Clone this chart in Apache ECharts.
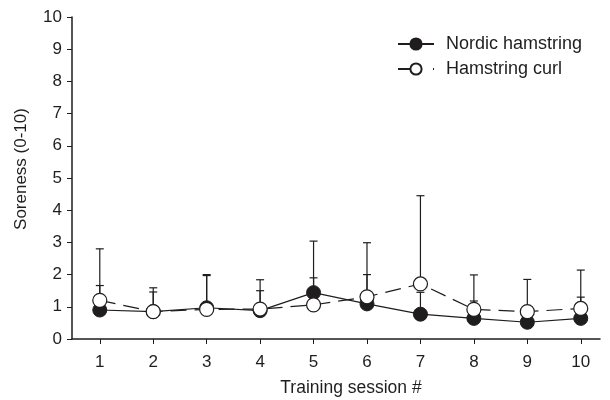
<!DOCTYPE html>
<html><head><meta charset="utf-8">
<script src="https://cdn.jsdelivr.net/npm/echarts@6/dist/echarts.min.js"></script>
<style>html,body{margin:0;padding:0;background:#fff}#c{width:610px;height:400px}</style>
</head><body><div id="c"></div>
<script>
const sessions = [1,2,3,4,5,6,7,8,9,10];
const nordicMean = [0.90,0.85,0.97,0.88,1.44,1.09,0.77,0.64,0.52,0.64];
const nordicUpper = [2.80,1.46,2.00,1.50,3.04,2.00,1.45,1.18,1.00,1.30];
const curlMean = [1.20,0.85,0.92,0.93,1.06,1.31,1.71,0.92,0.85,0.95];
const curlUpper = [1.66,1.59,1.97,1.84,1.90,2.99,4.45,1.99,1.85,2.14];

const INK = '#1f1d1e';
const font = 'Liberation Sans, Arial, sans-serif';

function errSeries(name, mean, upper){
  return {
    type:'custom', name: name + ' err', silent:true, z:1,
    data: sessions.map((s,i)=>[s, upper[i], mean[i]]),
    renderItem:(params, api)=>{
      const p0 = api.coord([api.value(0), api.value(2)]);
      const p1 = api.coord([api.value(0), api.value(1)]);
      const st = {stroke:INK, lineWidth:1.2};
      return {type:'group', children:[
        {type:'line', shape:{x1:p0[0],y1:p0[1],x2:p1[0],y2:p1[1]}, style:st},
        {type:'line', shape:{x1:p1[0]-4,y1:p1[1],x2:p1[0]+4,y2:p1[1]}, style:st}
      ]};
    }
  };
}

const chart = echarts.init(document.getElementById('c'));
chart.setOption({
  animation:false,
  backgroundColor:'#fff',
  grid:{left:72, right:10, top:17, bottom:61},
  legend:{
    left:397, top:35, padding:0, orient:'vertical', itemGap:7, itemWidth:36, itemHeight:14,
    textStyle:{fontFamily:font, fontSize:18, color:INK, padding:[0,0,0,7]},
    data:[
      {name:'Nordic hamstring'},
      {name:'Hamstring curl', lineStyle:{type:[13,22,3,10]}}
    ]
  },
  graphic:[
    {type:'text', x:351, y:388, style:{text:'Training session #', fontFamily:font, fontSize:17.5, fill:INK, align:'center', verticalAlign:'middle'}},
    {type:'text', x:21, y:169, rotation:Math.PI/2, style:{text:'Soreness (0-10)', fontFamily:font, fontSize:17, fill:INK, align:'center', verticalAlign:'middle'}}
  ],
  xAxis:{
    type:'value', min:0.48, max:10.36,
    axisLine:{lineStyle:{color:INK, width:1.5}},
    axisTick:{show:true, length:5, lineStyle:{color:INK}, customValues:sessions},
    axisLabel:{fontFamily:font, fontSize:17, color:INK, margin:15, customValues:sessions},
    splitLine:{show:false}
  },
  yAxis:{
    type:'value', min:0, max:10, interval:1,
    axisLine:{show:true, lineStyle:{color:INK, width:1.5}},
    axisTick:{show:true, length:5, lineStyle:{color:INK}},
    axisLabel:{fontFamily:font, fontSize:17, color:INK, margin:10},
    splitLine:{show:false}
  },
  series:[
    errSeries('Nordic hamstring', nordicMean, nordicUpper),
    errSeries('Hamstring curl', curlMean, curlUpper),
    {
      type:'line', name:'Hamstring curl', z:3,
      data: sessions.map((s,i)=>[s, curlMean[i]]),
      symbol:'circle', symbolSize:14,
      lineStyle:{color:INK, width:1.2, type:[16,8]},
      itemStyle:{color:'#fff', borderColor:INK, borderWidth:1.2}
    },
    {
      type:'line', name:'Nordic hamstring', z:2,
      data: sessions.map((s,i)=>[s, nordicMean[i]]),
      symbol:'circle', symbolSize:14,
      lineStyle:{color:INK, width:1.2},
      itemStyle:{color:INK, borderColor:INK, borderWidth:1}
    }
  ]
});
</script></body></html>
